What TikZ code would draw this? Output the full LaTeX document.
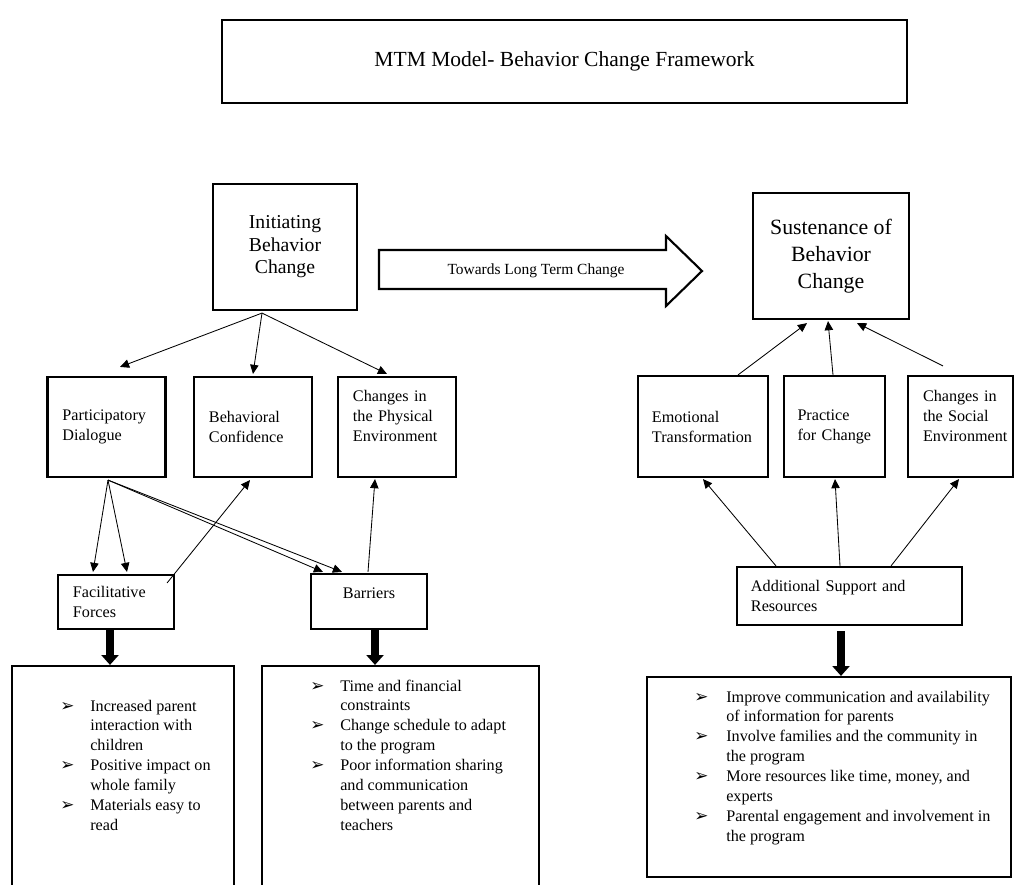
\documentclass[tikz,border=0pt]{standalone}
\usepackage{fontspec}
\setmainfont{Liberation Serif}
\newfontfamily\symfont{DejaVu Sans}
\usetikzlibrary{arrows.meta, calc, positioning}
\hyphenpenalty=10000
\newcommand{\bul}{{\symfont\fontsize{12}{12}\selectfont ➢}}

\begin{document}
\begin{tikzpicture}[x=0.025cm, y=-0.025cm,
    box/.style={rectangle, draw, line width=1.5pt, align=left, font=\fontsize{11.5}{14.2}\selectfont},
    smallbox/.style={box, text width=2.2cm, inner xsep=0.375cm, minimum height=2.5cm},
    listbox/.style={rectangle, draw, line width=1.5pt},
    listtext/.style={anchor=base west, inner sep=0pt, font=\fontsize{11.5}{14.2}\selectfont},
    arrow/.style={-{Triangle[width=6pt,length=6.5pt]}, line width=0.6pt},
    thickarrow/.style={-{Triangle[width=12pt,length=7pt]}, line width=5.5pt}]

    \clip (0,0) rectangle (1016,884);

    \node[box, align=center, minimum width=17.125cm, minimum height=2.075cm, font=\fontsize{15.3}{18}\selectfont] (title) at (564.5,61.5) {MTM Model- Behavior Change Framework};

    \node[box, align=center, minimum width=3.6cm, minimum height=3.15cm, font=\fontsize{14}{16}\selectfont] (init) at (285,247) {Initiating\\ Behavior\\ Change};
    \node[box, align=center, minimum width=3.9cm, minimum height=3.15cm, font=\fontsize{15.5}{19}\selectfont] (sust) at (831,256) {Sustenance of\\ Behavior\\ Change};

    % big arrow between the two
    \draw[line width=1.5pt] (379,250) -- (666,250) -- (666,236) -- (702,271) -- (666,306) -- (666,289) -- (379,289) -- cycle;
    \node[font=\fontsize{11}{13}\selectfont] (towards) at (536,271) {Towards Long Term Change};

    \node[smallbox] (part) at (106.5,427) {Participatory\\ Dialogue};
    \node[smallbox] (behav) at (253,427) {Behavioral\\ Confidence};
    \node[smallbox, text depth=1.55cm] (phys) at (397,427) {Changes in\\ the Physical\\ Environment};

    \node[smallbox, text width=2.55cm, inner xsep=0.35cm, minimum height=2.525cm] (emot) at (703,426.5) {Emotional\\ Transformation};
    \node[smallbox, text width=1.85cm, inner xsep=0.3375cm, minimum height=2.525cm] (prac) at (834.5,426.5) {Practice\\ for Change};
    \node[smallbox, text width=1.875cm, minimum height=2.525cm, text depth=1.55cm] (soc) at (960.5,426.5) {Changes in\\ the Social\\ Environment};

    \node[box, text width=2.15cm, inner xsep=0.375cm, minimum height=1.35cm] (facil) at (116,602) {Facilitative\\ Forces};
    \node[box, align=center, minimum width=2.9cm, minimum height=1.375cm, text depth=0.425cm] (barr) at (369,601.5) {Barriers};
    \node[box, text width=4.925cm, inner xsep=0.35cm, minimum height=1.45cm] (addl) at (849.5,596) {Additional Support and\\ Resources};

    % lists
    \node[listbox, minimum width=5.55cm, minimum height=5.85cm] (facilbox) at (123,783) {};
    \node[listbox, minimum width=6.925cm, minimum height=5.85cm] (barrbox) at (400.5,783) {};
    \node[listbox, minimum width=9.1cm, minimum height=5cm] (addlbox) at (829,777) {};

    \node[listtext] (facillist) at (60,711) {\begin{tabular}[t]{@{}p{0.75cm}@{}l@{}}
        \bul & Increased parent\\
             & interaction with\\
             & children\\
        \bul & Positive impact on\\
             & whole family\\
        \bul & Materials easy to\\
             & read
    \end{tabular}};
    \node[listtext] (barrlist) at (310,691) {\begin{tabular}[t]{@{}p{0.75cm}@{}l@{}}
        \bul & Time and financial\\
             & constraints\\
        \bul & Change schedule to adapt\\
             & to the program\\
        \bul & Poor information sharing\\
             & and communication\\
             & between parents and\\
             & teachers
    \end{tabular}};
    \node[listtext] (addllist) at (694,702) {\begin{tabular}[t]{@{}p{0.8cm}@{}l@{}}
        \bul & Improve communication and availability\\
             & of information for parents\\
        \bul & Involve families and the community in\\
             & the program\\
        \bul & More resources like time, money, and\\
             & experts\\
        \bul & Parental engagement and involvement in\\
             & the program
    \end{tabular}};

    % arrows
    \draw[arrow] ($(init.south)+(-23,2)$) -- ($(part.north)+(13.5,-9)$);
    \draw[arrow] ($(init.south)+(-23,2)$) -- ($(behav.north)+(0,-2)$);
    \draw[arrow] ($(init.south)+(-23,2)$) -- ($(phys.north)+(-10,-2)$);

    \draw[arrow] ($(part.south)+(1.5,2)$) -- ($(facil.north)+(-23,-2)$);
    \draw[arrow] ($(part.south)+(1.5,2)$) -- ($(facil.north)+(11,-2)$);
    \draw[arrow] ($(part.south)+(1.5,2)$) -- ($(barr.north)+(-46,-1)$);
    \draw[arrow] ($(part.south)+(1.5,2)$) -- ($(barr.north)+(-27,-1)$);
    \draw[arrow] ($(facil.north east)+(-8,9)$) -- ($(behav.south)+(-3,2)$);
    \draw[arrow] ($(barr.north)+(-1,-1)$) -- ($(phys.south)+(-22,1)$);

    \draw[arrow] ($(emot.north)+(35,0)$) -- ($(sust.south)+(-24,3)$);
    \draw[arrow] ($(prac.north)+(-1.5,0)$) -- ($(sust.south)+(-3,1)$);
    \draw[arrow] ($(soc.north)+(-17.5,-9)$) -- ($(sust.south)+(26,3)$);
    \draw[arrow] ($(addl.north)+(-73.5,0)$) -- ($(emot.south)+(0,1)$);
    \draw[arrow] ($(addl.north)+(-9.5,0)$) -- ($(prac.south)+(0.5,1)$);
    \draw[arrow] ($(addl.north)+(41.5,0)$) -- ($(soc.south)+(-1.5,1)$);

    \draw[thickarrow] ($(facil.south)+(-6,0)$) -- ($(facilbox.north)+(-13,0)$);
    \draw[thickarrow] ($(barr.south)+(6,0)$) -- ($(barrbox.north)+(-25.5,0)$);
    \draw[thickarrow] ($(addl.south)+(-8.5,5)$) -- ($(addlbox.north)+(12,0)$);
\end{tikzpicture}
\end{document}
